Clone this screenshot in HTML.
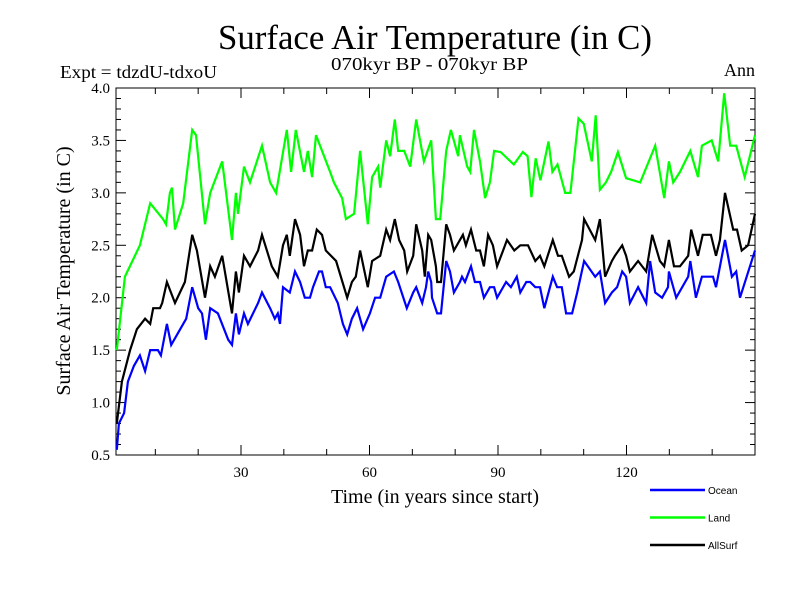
<!DOCTYPE html>
<html><head><meta charset="utf-8"><style>
body{margin:0;background:#fff}
svg text{font-family:"Liberation Serif",serif}
</style></head><body>
<svg id="chart" width="800" height="600" xmlns="http://www.w3.org/2000/svg">
<rect width="800" height="600" fill="#fff"/>
<text x="218" y="49" font-size="35" textLength="434" lengthAdjust="spacingAndGlyphs">Surface Air Temperature (in C)</text>
<text x="331" y="70" font-size="18" textLength="197" lengthAdjust="spacingAndGlyphs">070kyr BP - 070kyr BP</text>
<text x="60" y="78" font-size="18" textLength="157" lengthAdjust="spacingAndGlyphs">Expt = tdzdU-tdxoU</text>
<text x="755" y="76" font-size="18" text-anchor="end">Ann</text>
<text transform="translate(70,271) rotate(-90)" font-size="20" text-anchor="middle">Surface Air Temperature (in C)</text>
<text x="435" y="503" font-size="20" text-anchor="middle">Time (in years since start)</text>
<g id="axes"></g>
<g id="series"></g>
<g id="legend"></g>
</svg>
<script>
const yTicks=[0.5,1.0,1.5,2.0,2.5,3.0,3.5,4.0];
const xTicks=[30,60,90,120];
const seriesNames=["Ocean","Land","AllSurf"];
const oceanYears=[1,1.5,2.7,3.6,5.0,6.4,7.6,8.8,10.6,11.3,12.7,13.7,15.8,17.2,18.6,20.0,20.9,21.8,22.8,24.6,27.0,27.9,28.8,29.5,30.7,31.6,34.0,34.9,36.8,37.9,38.6,39.1,39.8,41.4,42.6,43.8,44.9,46.1,46.8,48.2,48.9,49.8,50.8,52.6,53.8,54.8,55.9,57.1,58.5,60.1,61.3,62.5,63.9,65.7,66.7,68.7,70.2,70.9,72.3,73.2,73.7,74.4,74.6,75.8,76.7,77.9,78.8,79.7,81.1,81.6,82.3,83.7,84.6,85.8,86.7,88.1,89.1,89.8,91.9,93.0,94.4,95.2,96.6,97.5,98.7,99.8,100.8,102.8,103.8,104.9,105.9,107.3,108.5,110.1,112.7,113.8,115.0,116.6,117.8,119.0,119.9,120.8,122.7,124.6,125.5,126.7,128.3,129.7,129.9,131.6,134.4,134.9,136.2,137.6,140.2,140.9,143.0,144.6,145.6,146.5,150];
const oceanVals=[0.55,0.8,0.9,1.2,1.35,1.45,1.3,1.5,1.5,1.45,1.75,1.55,1.7,1.8,2.1,1.9,1.85,1.6,1.9,1.85,1.6,1.55,1.85,1.65,1.85,1.75,1.95,2.05,1.9,1.8,1.85,1.75,2.1,2.05,2.25,2.15,2.0,2.0,2.1,2.25,2.25,2.1,2.1,1.95,1.75,1.65,1.8,1.9,1.7,1.85,2.0,2.0,2.2,2.25,2.15,1.9,2.05,2.1,1.95,2.1,2.25,2.15,2.0,1.85,1.85,2.35,2.25,2.05,2.15,2.2,2.15,2.3,2.15,2.15,2.0,2.1,2.1,2.0,2.15,2.1,2.2,2.05,2.15,2.15,2.1,2.1,1.9,2.2,2.1,2.1,1.85,1.85,2.05,2.35,2.2,2.25,1.95,2.05,2.1,2.25,2.2,1.95,2.1,1.95,2.35,2.05,2.0,2.1,2.25,2.0,2.2,2.35,2.0,2.2,2.2,2.1,2.55,2.2,2.25,2.0,2.45];
const landYears=[1,2.9,6.4,8.8,11.8,12.5,13.4,13.9,14.6,16.5,18.6,19.5,21.6,22.8,25.6,27.9,28.8,29.3,30.7,32.1,34.9,36.8,38.2,40.7,41.7,42.8,44.7,45.6,46.6,47.5,50.8,51.7,53.6,54.5,56.4,57.8,59.6,60.6,62.0,62.5,63.9,64.8,65.9,66.7,68.1,69.5,70.9,72.7,74.4,75.5,76.5,77.9,79.0,80.7,81.1,82.8,83.5,84.4,85.8,87.0,88.1,89.1,90.6,93.7,95.8,96.9,97.8,98.8,99.9,101.8,102.7,103.9,105.7,106.9,108.8,110.0,111.9,112.8,113.8,115.2,116.4,118.0,119.9,123.2,126.7,128.8,129.9,130.9,132.5,134.9,136.7,137.6,139.9,141.4,142.8,144.2,145.6,147.6,150];
const landVals=[1.5,2.2,2.5,2.9,2.75,2.7,3.0,3.05,2.65,2.9,3.6,3.55,2.7,3.0,3.3,2.55,3.0,2.8,3.25,3.1,3.45,3.1,3.0,3.6,3.2,3.6,3.2,3.4,3.15,3.55,3.2,3.1,2.95,2.75,2.8,3.4,2.7,3.15,3.25,3.05,3.5,3.35,3.7,3.4,3.4,3.25,3.7,3.3,3.5,2.75,2.75,3.4,3.6,3.35,3.55,3.25,3.2,3.6,3.3,2.95,3.1,3.4,3.39,3.27,3.39,3.35,2.96,3.33,3.12,3.49,3.2,3.27,3.0,3.0,3.71,3.66,3.3,3.74,3.03,3.1,3.2,3.39,3.14,3.1,3.45,2.95,3.3,3.1,3.2,3.4,3.15,3.45,3.5,3.3,3.95,3.45,3.45,3.15,3.55];
const allYears=[1,2.2,4.1,5.7,7.6,8.8,9.5,11.1,11.6,12.7,14.6,16.9,18.6,19.7,21.6,22.8,23.9,25.6,27.9,28.8,29.5,30.7,32.1,34.0,34.9,37.2,38.6,39.8,40.7,41.4,42.6,43.8,44.7,45.6,46.6,47.7,48.9,49.8,52.2,54.8,55.9,56.8,57.8,59.6,60.6,62.5,63.9,64.8,65.9,66.9,68.1,68.8,70.2,70.9,72.3,72.9,73.7,74.4,75.5,75.8,76.7,77.9,78.8,79.7,81.8,82.5,83.7,84.9,85.8,86.7,87.7,88.8,89.8,91.2,92.1,93.8,95.2,97.0,98.7,99.8,100.8,102.8,104.0,104.9,106.6,107.7,109.6,110.1,112.7,113.8,115.0,116.6,117.3,119.0,119.9,120.8,122.7,124.6,126.0,127.8,128.8,129.9,131.1,132.5,134.4,135.1,136.7,137.8,139.7,140.9,141.8,143.0,144.9,145.8,146.9,148.4,150];
const allVals=[0.8,1.2,1.5,1.7,1.8,1.75,1.9,1.9,1.95,2.15,1.95,2.15,2.6,2.45,2.0,2.3,2.2,2.4,1.85,2.25,2.05,2.4,2.3,2.45,2.6,2.3,2.2,2.5,2.6,2.4,2.75,2.6,2.3,2.45,2.45,2.65,2.6,2.45,2.35,2.0,2.15,2.2,2.45,2.1,2.35,2.4,2.65,2.55,2.75,2.55,2.45,2.25,2.4,2.7,2.45,2.2,2.6,2.55,2.3,2.15,2.15,2.7,2.6,2.45,2.6,2.5,2.65,2.45,2.45,2.3,2.6,2.5,2.3,2.45,2.55,2.45,2.5,2.5,2.35,2.4,2.3,2.55,2.4,2.4,2.2,2.25,2.55,2.75,2.55,2.75,2.2,2.35,2.4,2.5,2.4,2.25,2.35,2.25,2.6,2.35,2.3,2.55,2.3,2.3,2.4,2.65,2.4,2.6,2.6,2.4,2.55,3.0,2.65,2.65,2.45,2.5,2.8];

const NS="http://www.w3.org/2000/svg";
const L=116,R=755,T=88,B=455;
const X=v=>112.5+v*(R-112.5)/150;
const Y=v=>B-(v-0.5)*(B-T)/3.5;
function mk(tag,attrs,parent){const e=document.createElementNS(NS,tag);for(const k in attrs)e.setAttribute(k,attrs[k]);parent.appendChild(e);return e;}
const axes=document.getElementById('axes');
const frame=mk('rect',{x:L,y:T,width:R-L,height:B-T,fill:'none',stroke:'#000','stroke-width':1},axes);


for(let i=0;i<=35;i++){
  const v=0.5+i*0.1, y=Y(v), len=(i%5===0)?10:5;
  const t1=mk('line',{x1:L,x2:L+len,y1:y,y2:y,stroke:'#000'},axes);
  
  
  const t2=mk('line',{x1:R-len,x2:R,y1:y,y2:y,stroke:'#000'},axes);
  
  
}
yTicks.forEach(v=>{
  const t=mk('text',{x:L-6,y:Y(v)+5,'font-size':15,'text-anchor':'end'},axes);
  t.textContent=v.toFixed(1);
  
  
});
for(let yr=10;yr<150;yr+=10){
  const x=X(yr), len=(yr%30===0)?10:6;
  const a=mk('line',{x1:x,x2:x,y1:B,y2:B-len,stroke:'#000'},axes);
  
  
  const b=mk('line',{x1:x,x2:x,y1:T,y2:T+len,stroke:'#000'},axes);
  
  
}
xTicks.forEach(v=>{
  const t=mk('text',{x:X(v),y:B+22,'font-size':15,'text-anchor':'middle'},axes);
  t.textContent=v;
  
  
});
const sg=document.getElementById('series');
const defs=[[landYears,landVals,'#00ff00','land-line'],[allYears,allVals,'#000000','allsurf-line'],[oceanYears,oceanVals,'#0000ff','ocean-line']];
defs.forEach(([xs,vs,c,n])=>{
  const p=mk('polyline',{points:xs.map((x,i)=>X(x).toFixed(1)+','+Y(vs[i]).toFixed(1)).join(' '),fill:'none',stroke:c,'stroke-width':2.2,'stroke-linejoin':'miter'},sg);
  
  
});
const lg=document.getElementById('legend');
const lcol=['#0000ff','#00ff00','#000000'];
seriesNames.forEach((s,i)=>{
  const y=490+i*27.5;
  const ln=mk('line',{x1:650,x2:705,y1:y,y2:y,stroke:lcol[i],'stroke-width':2.5},lg);
  
  
  const t=mk('text',{x:708,y:y+4,'font-size':10,style:'font-family:"Liberation Sans",sans-serif'},lg);
  t.textContent=s;
  
  
});
</script>
</body></html>
